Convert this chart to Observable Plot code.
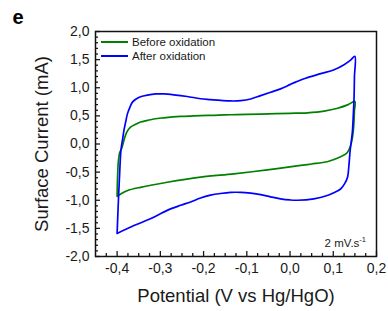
<!DOCTYPE html>
<html><head><meta charset="utf-8">
<script src="https://cdn.jsdelivr.net/npm/d3@7"></script>
<script src="https://cdn.jsdelivr.net/npm/@observablehq/plot@0.6"></script>
<style>
body{margin:0;background:#fff;}
#wrap{position:relative;width:388px;height:311px;font-family:"Liberation Sans",Arial,sans-serif;color:#1a1a1a;}
#legend{position:absolute;left:101px;top:35px;font-size:11.5px;}
#legend .row{display:flex;align-items:center;height:14.2px;line-height:14px;}
#legend .sw{display:inline-block;width:27px;height:1.6px;margin-right:4px;}
#note{position:absolute;right:22px;top:237px;font-size:11.5px;line-height:12px;}
#note sup{font-size:7.5px;line-height:0;vertical-align:5px;}
</style></head><body>
<div id="wrap"></div>
<script>
const seriesNames = ["Before oxidation", "After oxidation"];
const seriesColors = ["#008000", "#0000ff"];

const beforePotential = [-0.400,-0.399,-0.397,-0.394,-0.389,-0.383,-0.377,-0.369,-0.357,-0.346,-0.330,-0.315,-0.292,-0.253,-0.207,-0.176,-0.137,-0.100,-0.050,0.000,0.040,0.079,0.110,0.133,0.150,
  0.149,0.1475,0.145,0.140,0.133,0.125,0.117,0.100,0.086,0.050,0.0245,-0.0525,-0.130,-0.207,-0.284,-0.346,-0.377,-0.390,-0.400];
const beforeCurrent = [-0.93,-0.60,-0.30,-0.15,-0.07,0.10,0.22,0.30,0.35,0.39,0.42,0.445,0.465,0.49,0.505,0.51,0.52,0.525,0.535,0.545,0.555,0.585,0.635,0.695,0.755,
  0.60,0.35,0.15,-0.03,-0.145,-0.195,-0.225,-0.28,-0.315,-0.355,-0.38,-0.46,-0.53,-0.59,-0.68,-0.77,-0.83,-0.88,-0.93];

const afterPotential = [-0.400,-0.397,-0.394,-0.391,-0.387,-0.384,-0.380,-0.376,-0.370,-0.365,-0.356,-0.346,-0.330,-0.310,-0.292,-0.269,-0.238,-0.207,-0.184,-0.160,-0.137,-0.114,-0.091,-0.068,-0.045,-0.022,0.001,0.013,0.036,0.071,0.102,0.125,0.140,0.150,
  0.149,0.148,0.1465,0.144,0.139,0.136,0.133,0.126,0.117,0.100,0.086,0.055,0.017,0.000,-0.022,-0.045,-0.068,-0.091,-0.114,-0.137,-0.161,-0.184,-0.207,-0.230,-0.253,-0.284,-0.323,-0.361,-0.400];
const afterCurrent = [-1.59,-1.00,-0.50,-0.10,0.10,0.25,0.40,0.54,0.66,0.74,0.80,0.84,0.87,0.89,0.89,0.875,0.845,0.805,0.79,0.775,0.765,0.77,0.80,0.86,0.92,0.98,1.06,1.10,1.17,1.25,1.32,1.41,1.49,1.56,
  1.20,0.80,0.54,0.20,-0.12,-0.40,-0.59,-0.71,-0.80,-0.87,-0.915,-0.975,-1.00,-0.995,-0.975,-0.94,-0.90,-0.875,-0.86,-0.86,-0.88,-0.91,-0.96,-1.03,-1.09,-1.18,-1.33,-1.45,-1.59];

const xMajorTicks = [-0.4,-0.3,-0.2,-0.1,0.0,0.1,0.2];
const xMinorTicks = [-0.425,-0.375,-0.35,-0.325,-0.275,-0.25,-0.225,-0.175,-0.15,-0.125,-0.075,-0.05,-0.025,0.025,0.05,0.075,0.125,0.15,0.175];
const yMajorTicks = [-2.0,-1.5,-1.0,-0.5,0.0,0.5,1.0,1.5,2.0];
const yMinorTicks = [-1.9,-1.8,-1.7,-1.6,-1.4,-1.3,-1.2,-1.1,-0.9,-0.8,-0.7,-0.6,-0.4,-0.3,-0.2,-0.1,0.1,0.2,0.3,0.4,0.6,0.7,0.8,0.9,1.1,1.2,1.3,1.4,1.6,1.7,1.8,1.9];

const xLabel = "Potential (V vs Hg/HgO)";
const yLabel = "Surface Current (mA)";
const panelLabel = "e";
const rateNote = "2 mV.s";

const table = (name, P, I) => P.map((p, i) => ({series: name, V: p, I: I[i]}));
const before = table(seriesNames[0], beforePotential, beforeCurrent);
const after = table(seriesNames[1], afterPotential, afterCurrent);

const fmt = d => (Math.abs(d) < 1e-9 ? 0 : d).toFixed(1).replace(".", ",");
const blank = () => "";

const chart = Plot.plot({
  width: 388, height: 311,
  marginLeft: 95, marginRight: 12, marginTop: 31, marginBottom: 55,
  style: {fontFamily: '"Liberation Sans", Arial, sans-serif', color: "#1a1a1a", background: "transparent"},
  x: {domain: [-0.45, 0.2]},
  y: {domain: [-2, 2]},
  marks: [
    Plot.axisX({ticks: xMajorTicks, tickSize: 0, tickPadding: 7, tickFormat: fmt, fontSize: 14, label: null}),
    Plot.axisX({ticks: xMajorTicks, tickSize: -5, tickFormat: blank, label: null, strokeWidth: 1.3}),
    Plot.axisX({ticks: xMinorTicks, tickSize: -3, tickFormat: blank, label: null, strokeWidth: 1.3}),
    Plot.axisY({ticks: yMajorTicks, tickSize: 0, tickPadding: 6, tickFormat: fmt, fontSize: 14, label: null}),
    Plot.axisY({ticks: yMajorTicks, tickSize: -5, tickFormat: blank, label: null, strokeWidth: 1.3}),
    Plot.axisY({ticks: yMinorTicks, tickSize: -3, tickFormat: blank, label: null, strokeWidth: 1.3}),
    Plot.line(before, {x: "V", y: "I", stroke: seriesColors[0], strokeWidth: 1.7, curve: "catmull-rom"}),
    Plot.line(after, {x: "V", y: "I", stroke: seriesColors[1], strokeWidth: 1.7, curve: "catmull-rom"}),
    Plot.frame({stroke: "#111", strokeWidth: 1.5}),
    Plot.text([xLabel], {frameAnchor: "bottom", dy: 45, lineAnchor: "bottom", textAnchor: "middle", fontSize: 18.5, fill: "#1a1a1a"}),
    Plot.text([yLabel], {frameAnchor: "left", dx: -53, rotate: -90, textAnchor: "middle", fontSize: 18.5, fill: "#1a1a1a"}),
    Plot.text([panelLabel], {frameAnchor: "top-left", dx: -83, dy: -8, lineAnchor: "bottom", textAnchor: "start", fontSize: 20, fontWeight: "bold", fill: "#000"})
  ]
});

const wrap = document.getElementById("wrap");
wrap.appendChild(chart);

const legend = document.createElement("div");
legend.id = "legend";
seriesNames.forEach((name, i) => {
  const row = document.createElement("div");
  row.className = "row";
  const sw = document.createElement("span");
  sw.className = "sw";
  sw.style.background = seriesColors[i];
  const t = document.createElement("span");
  t.textContent = name;
  row.appendChild(sw); row.appendChild(t);
  legend.appendChild(row);
});
wrap.appendChild(legend);

const note = document.createElement("div");
note.id = "note";
note.innerHTML = rateNote + "<sup>-1</sup>";
wrap.appendChild(note);
</script>
</body></html>
